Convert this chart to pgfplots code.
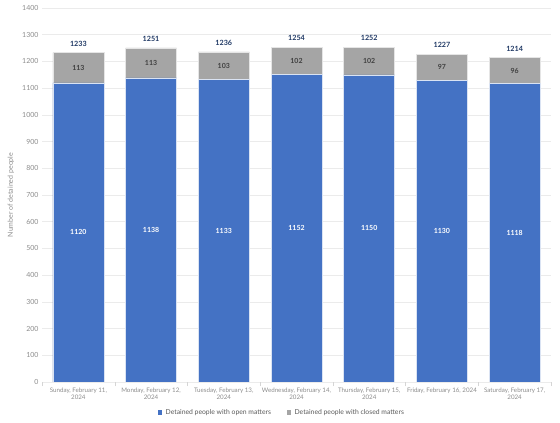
\documentclass[border=0pt]{standalone}
\usepackage{pgfplots}
\pgfplotsset{compat=1.18}
\usepackage{pgfplotstable}
\usepackage{fontspec}
\setmainfont{Lato}

\definecolor{openblue}{HTML}{4472C4}
\definecolor{closedgray}{HTML}{A5A5A5}
\definecolor{totalblue}{HTML}{1F3864}
\definecolor{ticktext}{HTML}{8C8C8C}
\definecolor{gridgray}{HTML}{EBEBEB}

% x index, open matters, closed matters, total
\pgfplotstableread{
x open closed total
0 1120 113 1233
1 1138 113 1251
2 1133 103 1236
3 1152 102 1254
4 1150 102 1252
5 1130 97 1227
6 1118 96 1214
}\detained

\begin{document}
\begin{tikzpicture}
\path[use as bounding box] (-42pt,-41pt) rectangle (518pt,382pt);
\begin{axis}[
  scale only axis,
  width=509pt, height=374pt,
  xmin=-0.5, xmax=6.5,
  ymin=0, ymax=1400,
  ytick={0,100,...,1400},
  xtick={0,...,6},
  xticklabels={{Sunday, February 11,\\2024},{Monday, February 12,\\2024},{Tuesday, February 13,\\2024},{Wednesday, February 14,\\2024},{Thursday, February 15,\\2024},{Friday, February 16, 2024},{Saturday, February 17,\\2024}},
  x tick label style={font=\fontsize{6.2}{7.4}\selectfont, align=center, text=ticktext, yshift=-2pt},
  y tick label style={font=\fontsize{7}{8}\selectfont, text=ticktext},
  /pgf/number format/assume math mode=true,
  /pgf/number format/1000 sep={},
  minor xtick={-0.5,0.5,...,6.5},
  xtick pos=bottom, ytick pos=left,
  tick align=outside,
  major tick length=0pt,
  minor tick length=4pt,
  minor x tick style={draw=gridgray!80!gray},
  ymajorgrids,
  grid style={gridgray, line width=0.6pt},
  axis line style={draw=none},
  ylabel={Number of detained people},
  every axis y label/.style={at={(axis description cs:0,0.5)}, xshift=-31pt, rotate=90, anchor=center, font=\fontsize{7}{8}\selectfont, text=ticktext},
  bar width=51pt,
  legend columns=2,
  legend style={draw=none, fill=none, at={(axis description cs:0.4715,-0.081)}, anchor=center,
    font=\fontsize{6.8}{8}\selectfont, text=black!65, column sep=2pt,
    /tikz/every even column/.append style={column sep=14pt}},
]
% gray bars reach the total, blue bars cover the open part
\addplot[ybar, bar shift=0pt, fill=closedgray, draw=white!80!gray, line width=0.5pt, forget plot]
  table[x=x, y=total] {\detained};
\addplot[ybar, bar shift=0pt, fill=openblue, draw=white!80!openblue, line width=0.5pt, forget plot]
  table[x=x, y=open] {\detained};

% labels
\addplot[draw=none, mark=none, forget plot, nodes near coords, point meta=explicit symbolic,
  every node near coord/.style={anchor=center, text=white, font=\fontsize{7}{8}\selectfont\bfseries}]
  table[x=x, y expr=\thisrow{open}/2, meta=open] {\detained};
\addplot[draw=none, mark=none, forget plot, nodes near coords, point meta=explicit symbolic,
  every node near coord/.style={anchor=center, text=black!75, font=\fontsize{7}{8}\selectfont\bfseries}]
  table[x=x, y expr=\thisrow{open}+\thisrow{closed}/2, meta=closed] {\detained};
\addplot[draw=none, mark=none, forget plot, nodes near coords, point meta=explicit symbolic,
  every node near coord/.style={anchor=south, yshift=3pt, text=totalblue, font=\fontsize{7.2}{8}\selectfont\bfseries}]
  table[x=x, y=total, meta=total] {\detained};

\addlegendimage{legend image code/.code={\fill[openblue] (0pt,-1.6pt) rectangle (3.2pt,1.6pt);}}
\addlegendentry{Detained people with open matters}
\addlegendimage{legend image code/.code={\fill[closedgray] (0pt,-1.6pt) rectangle (3.2pt,1.6pt);}}
\addlegendentry{Detained people with closed matters}
\end{axis}
\end{tikzpicture}
\end{document}
